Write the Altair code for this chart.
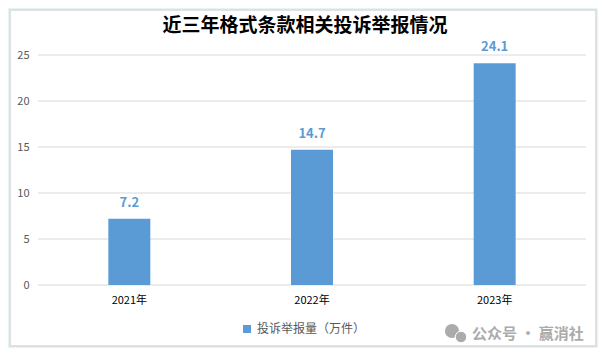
import altair as alt
import pandas as pd

years = ["2021年", "2022年", "2023年"]
values = [7.2, 14.7, 24.1]
labels = ["7.2", "14.7", "24.1"]
ticks = [0, 5, 10, 15, 20, 25]
series = "投诉举报量（万件）"
title = "近三年格式条款相关投诉举报情况"
watermark = "公众号 · 赢消社"
FONT = "Noto Sans CJK SC"
BLUE = "#5B9BD5"
W, H = 548, 230

df = pd.DataFrame({"year": years, "value": values, "label": labels, "series": [series] * 3})
tdf = pd.DataFrame({"t": ticks})
one = pd.DataFrame({"a": [0]})

x = alt.X("year:N", sort=years, scale=alt.Scale(domain=years, paddingInner=0, paddingOuter=0),
          axis=alt.Axis(title=None, labelAngle=0, labelColor="#000000", labelFontSize=11, labelFont=FONT,
                        domain=False, ticks=False, labelPadding=9, grid=False, zindex=1))
yscale = alt.Scale(domain=[0, 25], nice=False)
yaxis = alt.Axis(title=None, values=ticks, labelColor="#595959", labelFontSize=11, labelFont=FONT,
                 domain=False, ticks=False, labelPadding=9, grid=False, zindex=1)

frame = alt.Chart(one).mark_rect(fill="#FFFFFF", stroke="#D9D9D9", strokeWidth=1.5, clip=False).encode(
    x=alt.value(-28), x2=alt.value(558), y=alt.value(-45), y2=alt.value(291))

grid = alt.Chart(tdf).mark_rule(color="#D9D9D9", strokeWidth=1).encode(
    y=alt.Y("t:Q", scale=yscale, axis=yaxis))

bars = alt.Chart(df).mark_bar(size=42).encode(
    x=x, y=alt.Y("value:Q", scale=yscale, axis=yaxis),
    color=alt.Color("series:N", scale=alt.Scale(domain=[series], range=[BLUE]),
                    legend=alt.Legend(title=None, orient="none", legendX=203, legendY=268, symbolType="square",
                                      symbolSize=64, labelFontSize=12, labelColor="#595959", labelFont=FONT,
                                      symbolStrokeWidth=0)))

text = alt.Chart(df).mark_text(color=BLUE, fontSize=13, fontWeight="bold", font=FONT, baseline="middle", dy=-16).encode(
    x=alt.X("year:N", sort=years), y=alt.Y("value:Q", scale=yscale, axis=yaxis), text="label:N")

ttl = alt.Chart(pd.DataFrame({"t": [title]})).mark_text(
    color="#000000", fontSize=19, font=FONT, fontWeight="bold", align="center", baseline="middle").encode(
    x=alt.value(267), y=alt.value(-29), text="t:N")

wm = alt.Chart(pd.DataFrame({"t": [watermark]})).mark_text(
    color="#ABABAB", fontSize=15, font=FONT, align="left", baseline="middle", fontWeight="bold").encode(
    x=alt.value(434), y=alt.value(279), text="t:N")
icon1 = alt.Chart(one).mark_point(filled=True, color="#ABABAB", opacity=1, size=200, shape="circle").encode(
    x=alt.value(414), y=alt.value(276))
icon2 = alt.Chart(one).mark_point(filled=True, color="#ABABAB", opacity=1, size=130, shape="circle", stroke="#FFFFFF", strokeWidth=1).encode(
    x=alt.value(423), y=alt.value(282))

chart = alt.layer(frame, grid, bars, text, ttl, icon1, icon2, wm).resolve_scale(y="shared").properties(
    width=W, height=H,
    background="#E3F5F6",
    padding={"left": 30, "top": 47, "right": 12, "bottom": 63},
    autosize=alt.AutoSizeParams(type="none"),
).configure_view(stroke=None)

chart.save("out.html", embed_options={"renderer": "svg", "actions": False})
